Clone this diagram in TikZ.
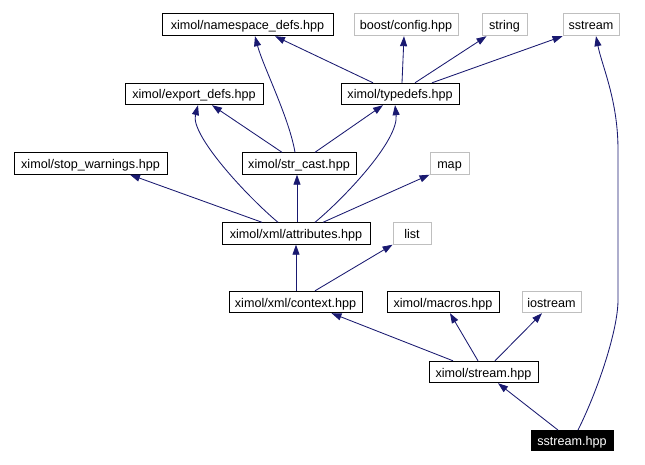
\documentclass[tikz,border=0pt]{standalone}
\usepackage{fontspec}
\setmainfont{Liberation Sans}
\usetikzlibrary{arrows.meta}
\definecolor{edgecol}{HTML}{191970}
\definecolor{graybox}{HTML}{BFBFBF}
\tikzset{
  box/.style={draw=black, line width=0.9pt, rectangle, inner sep=0pt, minimum height=21.5pt, text height=11pt, text depth=1pt, font=\fontsize{12.6}{14}\selectfont},
  sysbox/.style={box, draw=graybox},
  curbox/.style={box, fill=black, text=white},
  dep/.style={draw=edgecol, line width=0.85pt, -{Triangle[length=10pt,width=7pt]}},
}
\begin{document}
\begin{tikzpicture}[x=1pt,y=-1pt]
\useasboundingbox (0,0) rectangle (645,465);
\node[box, minimum width=171pt, minimum height=22.5pt] (nsd) at (247.5,24.5) {ximol/namespace\_defs.hpp};
\node[sysbox, minimum width=104pt, minimum height=22.5pt] (boost) at (406,24.5) {boost/config.hpp};
\node[sysbox, minimum width=45pt, minimum height=22.5pt] (string) at (504.5,24.5) {string};
\node[sysbox, minimum width=56pt, minimum height=22.5pt] (sstr) at (591,24.5) {sstream};
\node[box, minimum width=138pt] (export) at (194,94) {ximol/export\_defs.hpp};
\node[box, minimum width=118pt] (typedefs) at (400,94) {ximol/typedefs.hpp};
\node[box, minimum width=153pt] (stopw) at (90.5,163.5) {ximol/stop\_warnings.hpp};
\node[box, minimum width=114pt] (strcast) at (299,163.5) {ximol/str\_cast.hpp};
\node[sysbox, minimum width=39pt] (map) at (449.5,163.5) {map};
\node[box, minimum width=148pt] (attr) at (296,233.5) {ximol/xml/attributes.hpp};
\node[sysbox, minimum width=38pt] (list) at (412,233.5) {list};
\node[box, minimum width=133pt] (context) at (295.5,302) {ximol/xml/context.hpp};
\node[box, minimum width=112pt] (macros) at (443,302) {ximol/macros.hpp};
\node[sysbox, minimum width=59pt] (iostream) at (551.5,302) {iostream};
\node[box, minimum width=109pt] (stream) at (483.5,372) {ximol/stream.hpp};
\node[curbox, minimum width=82pt, minimum height=20pt] (ssh) at (572,440.5) {sstream.hpp};

% typedefs
\draw[dep] ([xshift=-27pt]typedefs.north) -- ([xshift=27.5pt]nsd.south);
\draw[dep] ([xshift=2pt]typedefs.north) -- ([xshift=-2pt]boost.south);
\draw[dep] ([xshift=15pt]typedefs.north) -- ([xshift=-18pt]string.south);
\draw[dep] ([xshift=32pt]typedefs.north) -- (sstr.south west);
% str_cast
\draw[dep] ([xshift=-4pt]strcast.north) .. controls +(-6,-35) and +(8,30) .. ([xshift=7.5pt]nsd.south);
\draw[dep] ([xshift=-17pt]strcast.north) -- ([xshift=18pt]export.south);
\draw[dep] ([xshift=16pt]strcast.north) -- ([xshift=-17pt]typedefs.south);
% attributes
\draw[dep] ([xshift=-34pt]attr.north) -- ([xshift=39.5pt]stopw.south);
\draw[dep] ([xshift=-18pt]attr.north) .. controls +(-30,-25) and +(-8,30) .. ([xshift=4pt]export.south);
\draw[dep] ([xshift=1pt]attr.north) -- ([xshift=-2pt]strcast.south);
\draw[dep] ([xshift=19pt]attr.north) .. controls +(30,-25) and +(4,35) .. ([xshift=-5pt]typedefs.south);
\draw[dep] ([xshift=27pt]attr.north) -- (map.south west);
% context
\draw[dep] ([xshift=0.5pt]context.north) -- ([xshift=0pt]attr.south);
\draw[dep] ([xshift=19.5pt]context.north) -- (list.south west);
% stream
\draw[dep] ([xshift=-30.5pt]stream.north) -- ([xshift=36pt]context.south);
\draw[dep] ([xshift=-5.5pt]stream.north) -- ([xshift=7pt]macros.south);
\draw[dep] ([xshift=11.5pt]stream.north) -- ([xshift=-9.5pt]iostream.south);
% sstream.hpp
\draw[dep] ([xshift=-14pt]ssh.north) -- ([xshift=14.5pt]stream.south);
\draw[dep] ([xshift=6pt]ssh.north) .. controls +(20,-40) and +(0,30) .. (618,300) -- (618,150) .. controls +(0,-50) and +(6,30) .. ([xshift=5pt]sstr.south);
\end{tikzpicture}
\end{document}
